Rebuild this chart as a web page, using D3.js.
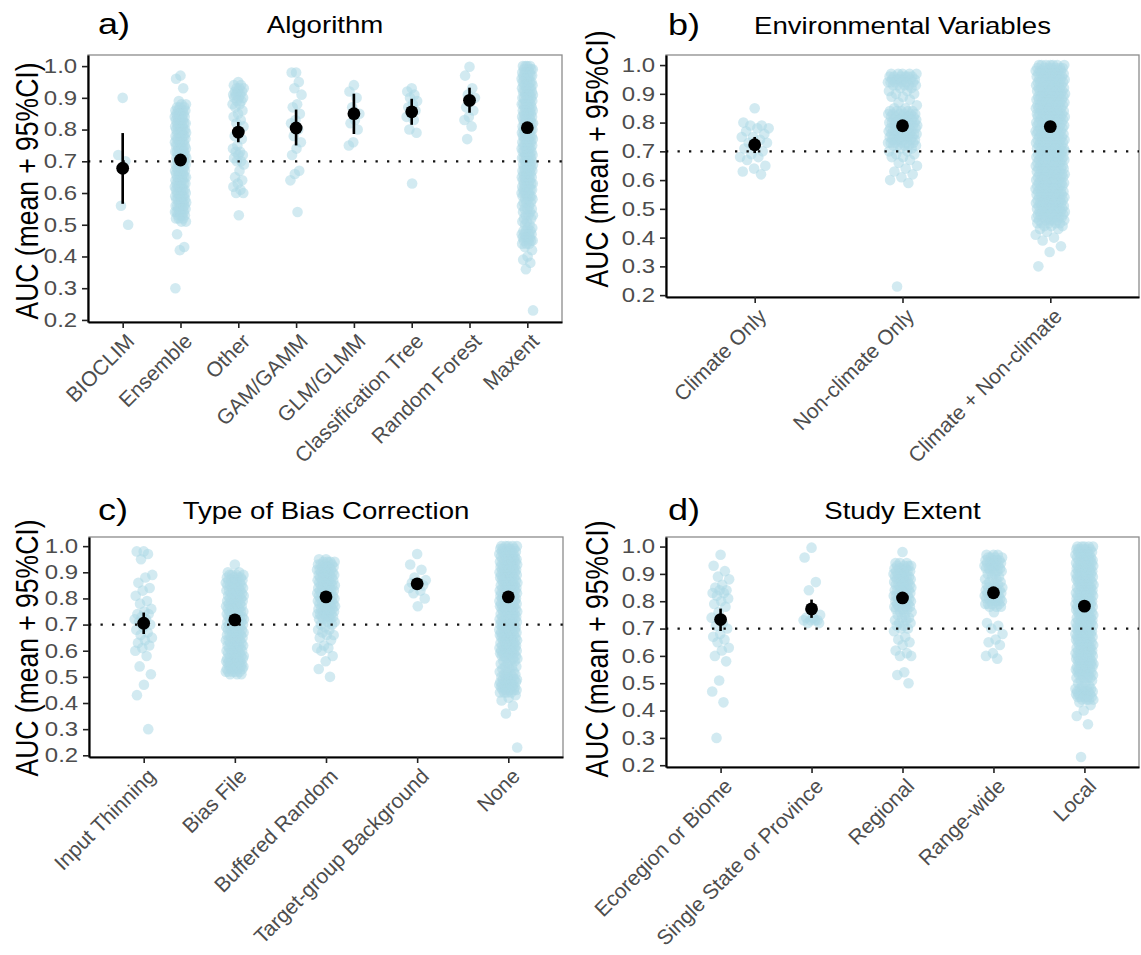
<!DOCTYPE html>
<html>
<head>
<meta charset="utf-8">
<script src="https://cdn.jsdelivr.net/npm/d3@7"></script>
<style>
  body { margin: 0; background: #fff; }
  svg { display: block; }
</style>
</head>
<body>
<svg id="fig" width="1141" height="955"></svg>
<script>
// ---- data (AUC values) ----
// a plain number is one study; [value, n] means n studies at that value (the dense columns)
const yTicks = [0.2, 0.3, 0.4, 0.5, 0.6, 0.7, 0.8, 0.9, 1.0];
const refLine = 0.7;

// a) Algorithm
const algoCats = ["BIOCLIM", "Ensemble", "Other", "GAM/GAMM", "GLM/GLMM", "Classification Tree", "Random Forest", "Maxent"];
const algoMean = [0.678, 0.704, 0.792, 0.805, 0.850, 0.856, 0.892, 0.806];
const algoLo   = [0.566, 0.697, 0.760, 0.750, 0.786, 0.815, 0.853, 0.802];
const algoHi   = [0.789, 0.711, 0.824, 0.863, 0.913, 0.897, 0.932, 0.810];
const bioclimAUC = [0.90, 0.72, 0.70, 0.56, 0.50];
const ensembleAUC = [0.97, 0.96, 0.93, 0.89, [0.88, 2], [0.87, 3], [0.86, 4], [0.85, 4], [0.84, 4], [0.83, 4],
  [0.82, 4], [0.81, 4], [0.80, 4], [0.79, 4], [0.78, 4], [0.77, 4], [0.76, 4], [0.75, 4], [0.74, 4], [0.73, 4],
  [0.72, 4], [0.71, 4], [0.70, 4], [0.69, 4], [0.68, 4], [0.67, 4], [0.66, 4], [0.65, 4], [0.64, 4], [0.63, 4],
  [0.62, 4], [0.61, 4], [0.60, 4], [0.59, 4], [0.58, 4], [0.57, 4], [0.56, 4], [0.55, 4], [0.54, 4], [0.53, 4],
  [0.52, 3], [0.51, 2], 0.47, 0.43, 0.42, 0.30];
const otherAUC = [0.95, [0.94, 2], [0.93, 3], [0.92, 3], [0.91, 3], [0.90, 3], [0.89, 2], [0.88, 2], 0.87, 0.86,
  0.85, 0.84, 0.83, 0.82, 0.81, 0.79, 0.78, 0.77, 0.75, 0.74, [0.73, 2], [0.72, 2], 0.71, [0.70, 2], 0.69,
  0.67, 0.65, 0.64, 0.63, 0.62, 0.61, [0.60, 2], 0.53];
const gamAUC = [0.98, 0.98, 0.95, 0.93, 0.91, 0.88, 0.87, 0.85, 0.83, 0.82, 0.80, 0.78, 0.76, 0.74, 0.72, 0.67, 0.66, 0.64, 0.54];
const glmAUC = [0.94, 0.92, 0.90, 0.87, 0.85, 0.83, 0.82, 0.80, 0.76, 0.75];
const ctreeAUC = [0.93, 0.92, 0.91, 0.90, 0.89, 0.88, 0.87, 0.86, 0.85, 0.84, 0.83, 0.80, 0.79, 0.63];
const rfAUC = [0.998, 0.97, 0.93, 0.91, 0.90, 0.89, 0.87, 0.86, 0.84, 0.83, 0.81, 0.77];
const maxentAUC = [[1.00, 4], [0.99, 4], [0.98, 4], [0.97, 4], [0.96, 4], [0.95, 4], [0.94, 4], [0.93, 4],
  [0.92, 4], [0.91, 4], [0.90, 4], [0.89, 4], [0.88, 4], [0.87, 4], [0.86, 4], [0.85, 4], [0.84, 4], [0.83, 4],
  [0.82, 4], [0.81, 4], [0.80, 4], [0.79, 4], [0.78, 4], [0.77, 4], [0.76, 4], [0.75, 4], [0.74, 4], [0.73, 4],
  [0.72, 4], [0.71, 4], [0.70, 4], [0.69, 4], [0.68, 4], [0.67, 4], [0.66, 4], [0.65, 4], [0.64, 4], [0.63, 4],
  [0.62, 4], [0.61, 4], [0.60, 4], [0.59, 4], [0.58, 3], [0.57, 3], [0.56, 2], [0.55, 3], [0.54, 2], [0.53, 3],
  [0.52, 2], [0.51, 2], [0.50, 2], [0.49, 2], [0.48, 3], [0.47, 4], [0.46, 4], [0.45, 4], [0.44, 3],
  0.43, 0.42, 0.40, 0.39, 0.38, 0.36, 0.23];

// b) Environmental Variables
const envCats = ["Climate Only", "Non-climate Only", "Climate + Non-climate"];
const envMean = [0.723, 0.789, 0.786];
const envLo   = [0.694, 0.778, 0.781];
const envHi   = [0.750, 0.800, 0.791];
const climOnlyAUC = [0.85, 0.80, 0.79, 0.79, 0.78, 0.78, 0.77, 0.76, 0.75, 0.75, 0.74, 0.73, 0.73, 0.72,
  0.71, 0.70, 0.69, 0.68, 0.68, 0.67, 0.65, 0.64, 0.63, 0.62];
const nonClimAUC = [[0.97, 5], [0.96, 6], [0.95, 6], [0.94, 6], [0.93, 5], [0.92, 2], [0.91, 2], [0.90, 2],
  [0.89, 2], 0.88, 0.87, 0.86, [0.85, 2], [0.84, 5], [0.83, 6], [0.82, 6], [0.81, 6], [0.80, 6], [0.79, 6],
  [0.78, 6], [0.77, 6], [0.76, 6], [0.75, 6], [0.74, 6], [0.73, 6], [0.72, 5], [0.71, 2], [0.70, 2], [0.69, 2],
  [0.68, 2], 0.67, 0.66, 0.65, 0.64, 0.63, 0.62, 0.61, 0.60, 0.59, 0.23];
const climNonAUC = [[1.00, 7], [0.99, 7], [0.98, 7], [0.97, 7], [0.96, 7], [0.95, 7], [0.94, 7], [0.93, 7],
  [0.92, 7], [0.91, 7], [0.90, 7], [0.89, 7], [0.88, 7], [0.87, 7], [0.86, 7], [0.85, 7], [0.84, 7], [0.83, 7],
  [0.82, 7], [0.81, 7], [0.80, 7], [0.79, 7], [0.78, 7], [0.77, 7], [0.76, 7], [0.75, 7], [0.74, 7], [0.73, 7],
  [0.72, 7], [0.71, 7], [0.70, 7], [0.69, 7], [0.68, 7], [0.67, 7], [0.66, 7], [0.65, 7], [0.64, 7], [0.63, 7],
  [0.62, 7], [0.61, 7], [0.60, 7], [0.59, 7], [0.58, 7], [0.57, 7], [0.56, 7], [0.55, 7], [0.54, 7], [0.53, 7],
  [0.52, 7], [0.51, 7], [0.50, 7], [0.49, 7], [0.48, 7], [0.47, 6], [0.46, 6], [0.45, 5], [0.44, 3],
  [0.43, 2], 0.42, 0.41, 0.40, 0.39, 0.37, 0.35, 0.30];

// c) Type of Bias Correction
const biasCats = ["Input Thinning", "Bias File", "Buffered Random", "Target-group Background", "None"];
const biasMean = [0.705, 0.718, 0.806, 0.856, 0.806];
const biasLo   = [0.664, 0.707, 0.796, 0.844, 0.802];
const biasHi   = [0.746, 0.729, 0.816, 0.868, 0.810];
const thinAUC = [0.98, 0.98, 0.97, 0.95, 0.89, 0.88, 0.86, 0.84, 0.83, 0.81, 0.79, 0.78, 0.76, 0.75, 0.74, 0.74,
  0.73, 0.72, 0.72, 0.71, 0.70, 0.69, 0.68, 0.67, 0.66, 0.65, 0.64, 0.63, 0.62, 0.61, 0.60, 0.58,
  0.54, 0.51, 0.47, 0.43, 0.30];
const biasFileAUC = [0.93, [0.90, 2], [0.89, 4], [0.88, 4], [0.87, 4], [0.86, 4], [0.85, 4], [0.84, 4], [0.83, 4],
  [0.82, 4], [0.81, 4], [0.80, 4], [0.79, 4], [0.78, 4], [0.77, 4], [0.76, 4], [0.75, 4], [0.74, 4], [0.73, 4],
  [0.72, 4], [0.71, 4], [0.70, 4], [0.69, 4], [0.68, 4], [0.67, 4], [0.66, 4], [0.65, 4], [0.64, 4], [0.63, 4],
  [0.62, 4], [0.61, 4], [0.60, 4], [0.59, 4], [0.58, 5], [0.57, 5], [0.56, 5], [0.55, 5], [0.54, 5], [0.53, 5],
  [0.52, 5], [0.51, 3]];
const bufRandAUC = [[0.95, 2], [0.94, 4], [0.93, 4], [0.92, 4], [0.91, 4], [0.90, 4], [0.89, 4], [0.88, 4],
  [0.87, 4], [0.86, 4], [0.85, 4], [0.84, 4], [0.83, 4], [0.82, 4], [0.81, 4], [0.80, 4], [0.79, 4], [0.78, 4],
  [0.77, 4], [0.76, 4], [0.75, 4], [0.74, 4], [0.73, 4], [0.72, 3], [0.71, 2], [0.70, 2], 0.69, [0.68, 2], 0.67,
  [0.66, 2], 0.65, 0.64, 0.62, [0.61, 2], 0.60, 0.58, 0.56, 0.53, 0.50];
const tgbAUC = [0.97, 0.93, 0.91, 0.88, 0.87, 0.86, 0.86, 0.85, 0.85, 0.84, 0.83, 0.82, 0.80, 0.77];
const noneAUC = [[1.00, 5], [0.99, 5], [0.98, 5], [0.97, 5], [0.96, 5], [0.95, 5], [0.94, 5], [0.93, 5],
  [0.92, 5], [0.91, 5], [0.90, 5], [0.89, 5], [0.88, 5], [0.87, 5], [0.86, 5], [0.85, 5], [0.84, 5], [0.83, 5],
  [0.82, 5], [0.81, 5], [0.80, 5], [0.79, 5], [0.78, 5], [0.77, 5], [0.76, 5], [0.75, 5], [0.74, 5], [0.73, 5],
  [0.72, 5], [0.71, 5], [0.70, 5], [0.69, 5], [0.68, 5], [0.67, 5], [0.66, 5], [0.65, 5], [0.64, 5], [0.63, 5],
  [0.62, 5], [0.61, 5], [0.60, 5], [0.59, 5], [0.58, 4], [0.57, 3], [0.56, 3], [0.55, 2], [0.54, 3], [0.53, 2],
  [0.52, 3], [0.51, 3], [0.50, 4], [0.49, 5], [0.48, 5], [0.47, 5], [0.46, 5], [0.45, 5], [0.44, 4],
  0.43, 0.42, 0.41, 0.39, 0.36, 0.23];

// d) Study Extent
const extCats = ["Ecoregion or Biome", "Single State or Province", "Regional", "Range-wide", "Local"];
const extMean = [0.733, 0.772, 0.812, 0.831, 0.782];
const extLo   = [0.691, 0.739, 0.800, 0.815, 0.778];
const extHi   = [0.773, 0.806, 0.824, 0.848, 0.786];
const ecoAUC = [0.97, 0.93, 0.91, 0.89, 0.88, 0.86, 0.85, 0.84, 0.84, 0.83, 0.83, 0.82, 0.81, 0.80, 0.79,
  0.78, 0.76, 0.74, 0.72, 0.71, 0.70, 0.68, 0.67, 0.66, 0.65, 0.63, 0.62, 0.60, 0.58, 0.51, 0.47, 0.43, 0.30];
const stateAUC = [0.996, 0.96, 0.87, 0.84, 0.75, 0.74, 0.74, 0.73, 0.73, 0.73, 0.73, 0.72, 0.72];
const regionalAUC = [0.98, [0.94, 3], [0.93, 4], [0.92, 4], [0.91, 4], [0.90, 4], [0.89, 4], [0.88, 4], [0.87, 4],
  [0.86, 4], [0.85, 4], [0.84, 4], [0.83, 4], [0.82, 4], [0.81, 4], [0.80, 4], [0.79, 4], [0.78, 4], [0.77, 3],
  [0.76, 2], [0.75, 2], [0.74, 2], [0.73, 2], [0.72, 2], [0.71, 2], [0.70, 2], 0.69, 0.67, 0.66, 0.65, 0.64,
  0.62, 0.61, 0.60, 0.60, 0.54, 0.53, 0.50];
const rangeAUC = [[0.97, 3], [0.96, 4], [0.95, 4], [0.94, 4], [0.93, 4], [0.92, 4], [0.91, 3], [0.90, 2],
  [0.89, 2], [0.88, 2], [0.87, 2], [0.86, 3], [0.85, 4], [0.84, 4], [0.83, 4], [0.82, 4], [0.81, 4], [0.80, 4],
  [0.79, 4], [0.78, 3], 0.76, 0.72, 0.71, 0.70, 0.68, 0.66, 0.65, 0.64, 0.61, 0.60, 0.59];
const localAUC = [[1.00, 5], [0.99, 5], [0.98, 5], [0.97, 5], [0.96, 5], [0.95, 5], [0.94, 5], [0.93, 5],
  [0.92, 5], [0.91, 5], [0.90, 5], [0.89, 5], [0.88, 5], [0.87, 5], [0.86, 5], [0.85, 5], [0.84, 5], [0.83, 5],
  [0.82, 5], [0.81, 5], [0.80, 5], [0.79, 5], [0.78, 5], [0.77, 5], [0.76, 5], [0.75, 5], [0.74, 5], [0.73, 5],
  [0.72, 5], [0.71, 5], [0.70, 5], [0.69, 5], [0.68, 5], [0.67, 5], [0.66, 5], [0.65, 5], [0.64, 5], [0.63, 5],
  [0.62, 5], [0.61, 5], [0.60, 5], [0.59, 5], [0.58, 5], [0.57, 5], [0.56, 5], [0.55, 5], [0.54, 5], [0.53, 5],
  [0.52, 4], [0.51, 2], [0.50, 2], [0.49, 2], [0.48, 4], [0.47, 5], [0.46, 5], [0.45, 5], [0.44, 4],
  0.43, 0.42, 0.40, 0.38, 0.35, 0.23];

// ---- layout ----
const SX = 1.2;   // the source figure is a bit wider than tall; horizontal text follows that
const FONT = '"Liberation Sans", Arial, Helvetica, sans-serif';
const yDomain = [0.1935, 1.035];

const panels = [
  { letter: "a)", title: "Algorithm", cats: algoCats, mean: algoMean, lo: algoLo, hi: algoHi,
    pts: [bioclimAUC, ensembleAUC, otherAUC, gamAUC, glmAUC, ctreeAUC, rfAUC, maxentAUC],
    ox: 0, box: { x0: 88, x1: 562, y0: 55, y1: 322 }, titleY: 33, yTitleC: 191 },
  { letter: "b)", title: "Environmental Variables", cats: envCats, mean: envMean, lo: envLo, hi: envHi,
    pts: [climOnlyAUC, nonClimAUC, climNonAUC],
    ox: 570, box: { x0: 666, x1: 1139, y0: 55, y1: 297 }, titleY: 34, yTitleC: 159 },
  { letter: "c)", title: "Type of Bias Correction", cats: biasCats, mean: biasMean, lo: biasLo, hi: biasHi,
    pts: [thinAUC, biasFileAUC, bufRandAUC, tgbAUC, noneAUC],
    ox: 0, box: { x0: 89, x1: 563, y0: 537, y1: 757 }, titleY: 519, yTitleC: 648 },
  { letter: "d)", title: "Study Extent", cats: extCats, mean: extMean, lo: extLo, hi: extHi,
    pts: [ecoAUC, stateAUC, regionalAUC, rangeAUC, localAUC],
    ox: 570, box: { x0: 666, x1: 1139, y0: 537, y1: 767 }, titleY: 519, yTitleC: 649 }
];

const svg = d3.select('#fig');

// unpack [value, n] entries into n single values
const expand = arr => arr.flatMap(d => Array.isArray(d) ? Array(d[1]).fill(d[0]) : [d]);

// spread points sideways like geom_jitter(width = 0.1), but deterministic
const jit = i => ((i * 0.6180339887 + 0.5) % 1) * 2 - 1;

function drawPanel(p) {
  const { x0, x1, y0, y1 } = p.box;
  const x = d3.scalePoint().domain(p.cats).range([x0, x1]).padding(0.6);
  const y = d3.scaleLinear().domain(yDomain).range([y1, y0]);
  const g = svg.append('g');

  // panel frame
  g.append('rect')
    .attr('x', x0).attr('y', y0).attr('width', x1 - x0).attr('height', y1 - y0)
    .attr('fill', 'none').attr('stroke', '#8c8c8c').attr('stroke-width', 1.3);

  // raw AUC points
  p.cats.forEach((c, ci) => {
    g.append('g').selectAll('circle')
      .data(expand(p.pts[ci]))
      .join('circle')
        .attr('cx', (d, i) => x(c) + jit(i) * 0.1 * x.step())
        .attr('cy', d => y(d))
        .attr('r', 5.3)
        .attr('fill', '#add8e6')
        .attr('fill-opacity', 0.55);
  });

  // 0.7 reference line
  g.append('line')
    .attr('x1', x0).attr('x2', x1).attr('y1', y(refLine)).attr('y2', y(refLine))
    .attr('stroke', '#111').attr('stroke-width', 2.3).attr('stroke-dasharray', '2.3,9.2');

  // mean + 95% CI
  g.append('g').selectAll('line')
    .data(p.cats)
    .join('line')
      .attr('x1', c => x(c)).attr('x2', c => x(c))
      .attr('y1', (c, i) => y(p.lo[i])).attr('y2', (c, i) => y(p.hi[i]))
      .attr('stroke', '#000').attr('stroke-width', 2.6);
  g.append('g').selectAll('circle')
    .data(p.cats)
    .join('circle')
      .attr('cx', c => x(c)).attr('cy', (c, i) => y(p.mean[i]))
      .attr('r', 6.4).attr('fill', '#000');

  // y axis
  const ya = g.append('g').attr('transform', `translate(${x0},0)`)
    .call(d3.axisLeft(y).tickValues(yTicks).tickFormat(d3.format('.1f')).tickSize(6).tickPadding(3).tickSizeOuter(0));
  ya.select('.domain').attr('stroke', '#000').attr('stroke-width', 2.2);
  ya.selectAll('.tick line').attr('stroke', '#222').attr('stroke-width', 1.6);
  ya.selectAll('.tick text')
    .attr('font-family', FONT).attr('font-size', 20).attr('fill', '#4d4d4d')
    .attr('transform', `scale(${SX},1)`);

  // x axis, labels turned 45 degrees
  const xa = g.append('g').attr('transform', `translate(0,${y1})`)
    .call(d3.axisBottom(x).tickSize(6).tickSizeOuter(0));
  xa.select('.domain').attr('stroke', '#000').attr('stroke-width', 2.2);
  xa.selectAll('.tick line').attr('stroke', '#222').attr('stroke-width', 1.6);
  xa.selectAll('.tick text')
    .attr('font-family', FONT).attr('font-size', 21).attr('fill', '#4d4d4d')
    .attr('x', 0).attr('y', 0).attr('dy', '0.71em')
    .attr('text-anchor', 'end')
    .attr('transform', 'translate(2,10) rotate(-45)');

  // y axis title
  g.append('text')
    .attr('transform', `translate(${p.ox + 38},${p.yTitleC}) scale(${SX},1) rotate(-90)`)
    .attr('text-anchor', 'middle')
    .attr('font-family', FONT).attr('font-size', 26.5).attr('fill', '#000')
    .text('AUC (mean + 95%CI)');

  // panel letter and title
  g.append('text')
    .attr('transform', `translate(${p.ox + 98},${p.titleY + 1}) scale(${SX},1)`)
    .attr('font-family', FONT).attr('font-size', 30).attr('fill', '#000')
    .text(p.letter);
  g.append('text')
    .attr('transform', `translate(${(x0 + x1) / 2},${p.titleY}) scale(${SX},1)`)
    .attr('text-anchor', 'middle')
    .attr('font-family', FONT).attr('font-size', 23).attr('fill', '#000')
    .text(p.title);
}

panels.forEach(drawPanel);
</script>
</body>
</html>
